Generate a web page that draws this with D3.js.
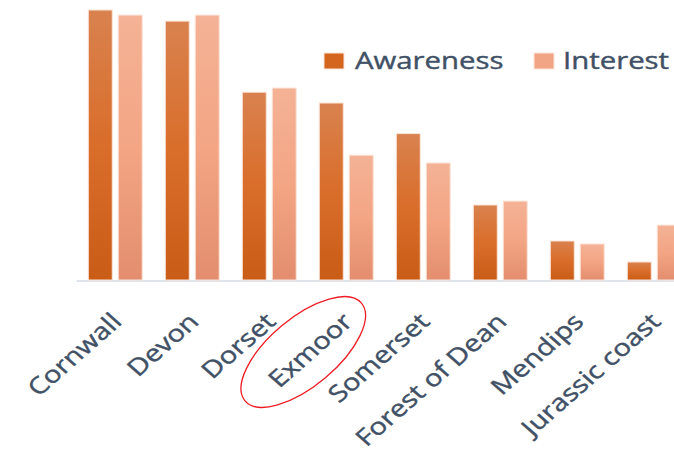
<!DOCTYPE html>
<html>
<head>
<meta charset="utf-8">
<script src="https://cdn.jsdelivr.net/npm/d3@7"></script>
<style>
  html, body { margin: 0; padding: 0; background: #ffffff; }
  svg { display: block; }
</style>
</head>
<body>
<svg id="chart" width="674" height="453"></svg>
<script>
// Destinations and the two survey measures (share of respondents, %)
const categories = ["Cornwall", "Devon", "Dorset", "Exmoor", "Somerset", "Forest of Dean", "Mendips", "Jurassic coast"];
const seriesNames = ["Awareness", "Interest"];
const awareness = [90, 86.3, 62.6, 59, 48.8, 25, 13, 6];
const interest  = [88.3, 88.3, 64, 41.6, 39, 26.3, 12, 18.3];
const highlighted = "Exmoor";

const rows = categories.map((c, i) => ({ category: c, Awareness: awareness[i], Interest: interest[i] }));

const baseY = 280;
const pageStretch = 1.14;          // horizontal stretch of the whole slide
const glyphStretch = 1.12;         // wide text face
const textColor = "#405065";

const svg = d3.select("#chart");
const defs = svg.append("defs");

// vertical gradients for each series
const gradStops = {
  Awareness: [["0%", "#d9824f"], ["50%", "#d96d2a"], ["100%", "#c95d17"]],
  Interest:  [["0%", "#f4b296"], ["50%", "#f3a584"], ["100%", "#e38e6e"]]
};
seriesNames.forEach(s => {
  const g = defs.append("linearGradient").attr("id", "grad-" + s)
    .attr("x1", 0).attr("y1", 0).attr("x2", 0).attr("y2", 1);
  gradStops[s].forEach(([o, c]) => g.append("stop").attr("offset", o).attr("stop-color", c));
});
const legendColor = { Awareness: "#d3651f", Interest: "#f2a584" };

const x0 = d3.scaleBand().domain(categories).range([76.75, 692.75]).paddingInner(0.3).paddingOuter(0.15);
const x1 = d3.scaleBand().domain(seriesNames).range([0, x0.bandwidth()]).paddingInner(0.2);
const y = d3.scaleLinear().domain([0, 100]).range([baseY, -20]);

// category axis line
svg.append("line")
  .attr("x1", x0.range()[0]).attr("x2", x0.range()[1])
  .attr("y1", baseY + 1).attr("y2", baseY + 1)
  .attr("stroke", "#dfe3ea").attr("stroke-width", 2);

// bars
const groups = svg.append("g").selectAll("g").data(rows).join("g")
  .attr("transform", d => `translate(${x0(d.category)},0)`);
groups.selectAll("rect")
  .data(d => seriesNames.map(s => ({ key: s, value: d[s] })))
  .join("rect")
  .attr("x", d => x1(d.key))
  .attr("width", x1.bandwidth())
  .attr("y", d => y(d.value))
  .attr("height", d => y(0) - y(d.value))
  .attr("fill", d => `url(#grad-${d.key})`)
  .attr("stroke", "#fbe3d6").attr("stroke-width", 1);

// rotated category labels
const labelFont = "'Open Sans', 'DejaVu Sans', sans-serif";
svg.append("g").selectAll("text").data(categories).join("text")
  .attr("transform", c => `translate(${x0(c) + x0.bandwidth() / 2 + 8},${baseY + 43}) scale(${pageStretch},1) rotate(-45) scale(${glyphStretch},1)`)
  .attr("text-anchor", "end")
  .attr("font-family", labelFont)
  .attr("font-size", 23)
  .attr("fill", textColor)
  .attr("stroke", textColor).attr("stroke-width", 0.4)
  .text(c => c);

// highlight ring round one label
const hx = x0(highlighted) + x0.bandwidth() / 2;
svg.append("ellipse")
  .attr("cx", hx - 43).attr("cy", 352)
  .attr("rx", 76).attr("ry", 34)
  .attr("transform", `rotate(-40, ${hx - 43}, 352)`)
  .attr("fill", "none").attr("stroke", "#ee1c24").attr("stroke-width", 1.3);

// legend
const legendItems = [
  { key: "Awareness", mx: 324, tx: 355 },
  { key: "Interest", mx: 534, tx: 563 }
];
const lg = svg.append("g");
legendItems.forEach(it => {
  lg.append("rect").attr("x", it.mx).attr("y", 53).attr("width", 20).attr("height", 16)
    .attr("fill", legendColor[it.key]).attr("stroke", "#fbe3d6").attr("stroke-width", 1);
  lg.append("text")
    .attr("transform", `translate(${it.tx},69) scale(${pageStretch * glyphStretch},1)`)
    .attr("font-family", labelFont)
    .attr("font-size", 23)
    .attr("fill", textColor)
    .attr("stroke", textColor).attr("stroke-width", 0.4)
    .text(it.key);
});
</script>
</body>
</html>
